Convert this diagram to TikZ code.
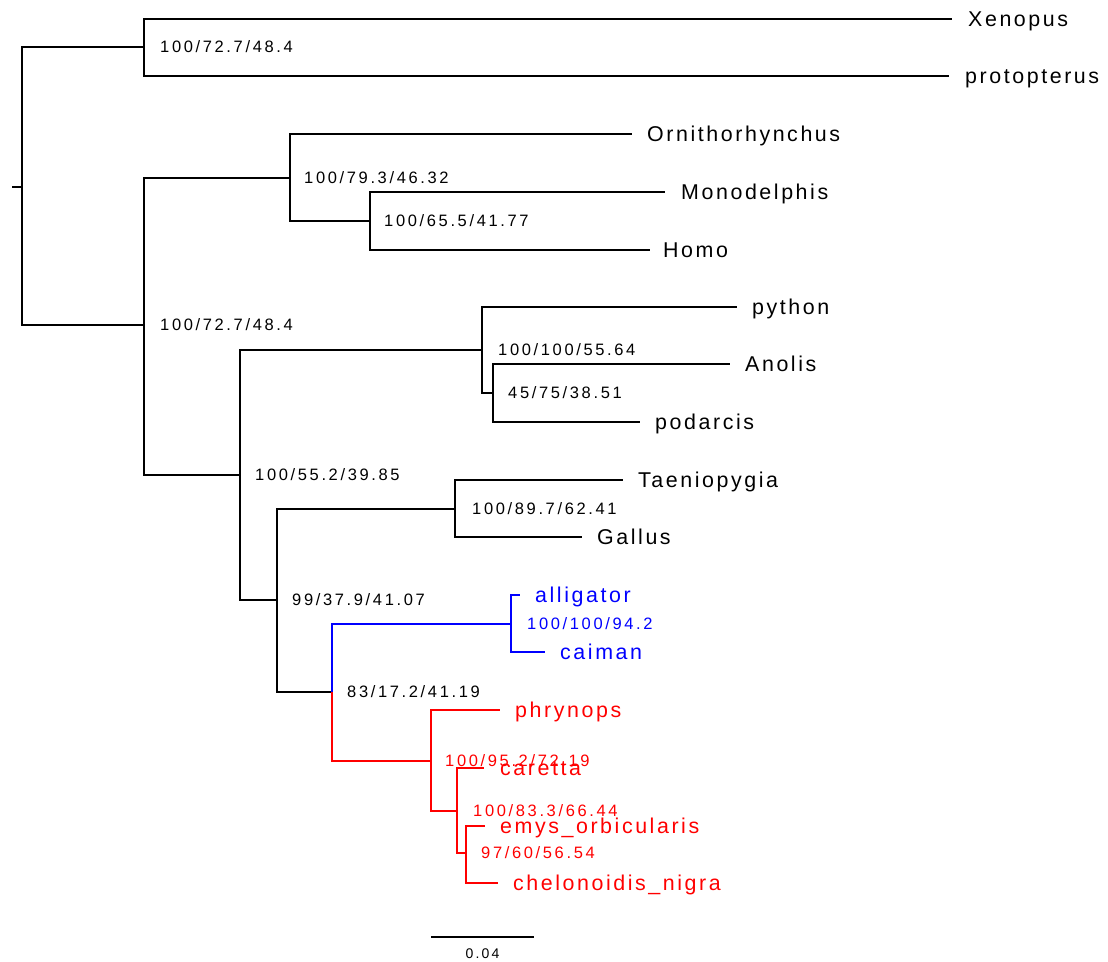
\documentclass[tikz,border=0pt]{standalone}
\usepackage{fontspec}
\setmainfont{Liberation Sans}
\newfontfamily\leaffont[LetterSpace=12]{Liberation Sans}
\newfontfamily\suppfont[LetterSpace=16]{Liberation Sans}
\usetikzlibrary{positioning}
\definecolor{croc}{HTML}{0000FF}
\definecolor{turt}{HTML}{FF0000}

\begin{document}
\begin{tikzpicture}[
  x=1pt, y=-1pt,
  brn/.style={line width=1.2pt},
  leaf/.style={anchor=west, inner sep=0pt, text height=15.3pt, text depth=0pt,
              font=\leaffont\fontsize{21.4}{24}\selectfont},
  supp/.style={anchor=west, inner sep=0pt, text height=11.8pt, text depth=0pt,
              font=\suppfont\fontsize{16.5}{18}\selectfont},
  sbtxt/.style={anchor=center, inner sep=0pt, text height=10pt, text depth=0pt,
              font=\suppfont\fontsize{14}{16}\selectfont}
]
  \useasboundingbox (0,0) rectangle (1108,961);

  % internal nodes
  \coordinate (base) at (12,187);
  \coordinate (root) at (22,187);
  \coordinate (nA) at (144,47);
  \coordinate (nB) at (144,325);
  \coordinate (nMam) at (290,178);
  \coordinate (nTher) at (370,221);
  \coordinate (nSaur) at (240,475);
  \coordinate (nSq) at (482,350);
  \coordinate (nLac) at (493,393);
  \coordinate (nArch) at (277,600);
  \coordinate (nAves) at (455,509);
  \coordinate (nCT) at (332,692);
  \coordinate (nCroc) at (511,624);
  \coordinate (nTest) at (431,761);
  \coordinate (nT2) at (457,811);
  \coordinate (nT3) at (466,853);

  % tips (branch ends)
  \coordinate (tXen) at (952,19);
  \coordinate (tPro) at (949,76);
  \coordinate (tOrn) at (632,134);
  \coordinate (tMon) at (665,192);
  \coordinate (tHom) at (650,250);
  \coordinate (tPyt) at (737,307);
  \coordinate (tAno) at (730,364);
  \coordinate (tPod) at (640,422);
  \coordinate (tTae) at (623,480);
  \coordinate (tGal) at (582,537);
  \coordinate (tAll) at (520,595);
  \coordinate (tCai) at (545,652);
  \coordinate (tPhr) at (500,710);
  \coordinate (tCar) at (484,768);
  \coordinate (tEmy) at (485,826);
  \coordinate (tChe) at (498,883);

  % branches
  \draw[brn] (base) -- (root);
  \draw[brn] (root) |- (nA);
  \draw[brn] (root) |- (nB);
  \draw[brn] (nA) |- (tXen);
  \draw[brn] (nA) |- (tPro);
  \draw[brn] (nB) |- (nMam);
  \draw[brn] (nB) |- (nSaur);
  \draw[brn] (nMam) |- (tOrn);
  \draw[brn] (nMam) |- (nTher);
  \draw[brn] (nTher) |- (tMon);
  \draw[brn] (nTher) |- (tHom);
  \draw[brn] (nSaur) |- (nSq);
  \draw[brn] (nSaur) |- (nArch);
  \draw[brn] (nSq) |- (tPyt);
  \draw[brn] (nSq) |- (nLac);
  \draw[brn] (nLac) |- (tAno);
  \draw[brn] (nLac) |- (tPod);
  \draw[brn] (nArch) |- (nAves);
  \draw[brn] (nArch) |- (nCT);
  \draw[brn] (nAves) |- (tTae);
  \draw[brn] (nAves) |- (tGal);

  % crocodiles
  \draw[brn, croc] (nCT) |- (nCroc);
  \draw[brn, croc] (nCroc) |- (tAll);
  \draw[brn, croc] (nCroc) |- (tCai);

  % turtles
  \draw[brn, turt] (nCT) |- (nTest);
  \draw[brn, turt] (nTest) |- (tPhr);
  \draw[brn, turt] (nTest) |- (nT2);
  \draw[brn, turt] (nT2) |- (tCar);
  \draw[brn, turt] (nT2) |- (nT3);
  \draw[brn, turt] (nT3) |- (tEmy);
  \draw[brn, turt] (nT3) |- (tChe);

  % support values
  \node[supp, right=16pt of nA] (sA) {100/72.7/48.4};
  \node[supp, right=16pt of nB] (sB) {100/72.7/48.4};
  \node[supp, right=14pt of nMam] (sMam) {100/79.3/46.32};
  \node[supp, right=14pt of nTher] (sTher) {100/65.5/41.77};
  \node[supp, right=15pt of nSaur] (sSaur) {100/55.2/39.85};
  \node[supp, right=16pt of nSq] (sSq) {100/100/55.64};
  \node[supp, right=15pt of nLac] (sLac) {45/75/38.51};
  \node[supp, right=15pt of nArch] (sArch) {99/37.9/41.07};
  \node[supp, right=17pt of nAves] (sAves) {100/89.7/62.41};
  \node[supp, right=15pt of nCT] (sCT) {83/17.2/41.19};
  \node[supp, croc, right=16pt of nCroc] (sCroc) {100/100/94.2};
  \node[supp, turt, right=14pt of nTest] (sTest) {100/95.2/72.19};
  \node[supp, turt, right=16pt of nT2] (sT2) {100/83.3/66.44};
  \node[supp, turt, right=15pt of nT3] (sT3) {97/60/56.54};

  % leaf names
  \node[leaf, right=16pt of tXen] (Xen) {Xenopus};
  \node[leaf, right=16pt of tPro] (Pro) {protopterus};
  \node[leaf, right=15pt of tOrn] (Orn) {Ornithorhynchus};
  \node[leaf, right=16pt of tMon] (Mon) {Monodelphis};
  \node[leaf, right=13pt of tHom] (Hom) {Homo};
  \node[leaf, right=15pt of tPyt] (Pyt) {python};
  \node[leaf, right=15pt of tAno] (Ano) {Anolis};
  \node[leaf, right=15pt of tPod] (Pod) {podarcis};
  \node[leaf, right=15pt of tTae] (Tae) {Taeniopygia};
  \node[leaf, right=15pt of tGal] (Gal) {Gallus};
  \node[leaf, croc, right=15pt of tAll] (All) {alligator};
  \node[leaf, croc, right=15pt of tCai] (Cai) {caiman};
  \node[leaf, turt, right=15pt of tPhr] (Phr) {phrynops};
  \node[leaf, turt, right=16pt of tCar] (Car) {caretta};
  \node[leaf, turt, right=15pt of tEmy] (Emy) {emys\_orbicularis};
  \node[leaf, turt, right=15pt of tChe] (Che) {chelonoidis\_nigra};

  % scale bar
  \coordinate (sb0) at (431,937);
  \coordinate (sb1) at (534,937);
  \draw[brn] (sb0) -- (sb1) node[midway, yshift=-16pt, sbtxt] (sbl) {0.04};
\end{tikzpicture}
\end{document}
